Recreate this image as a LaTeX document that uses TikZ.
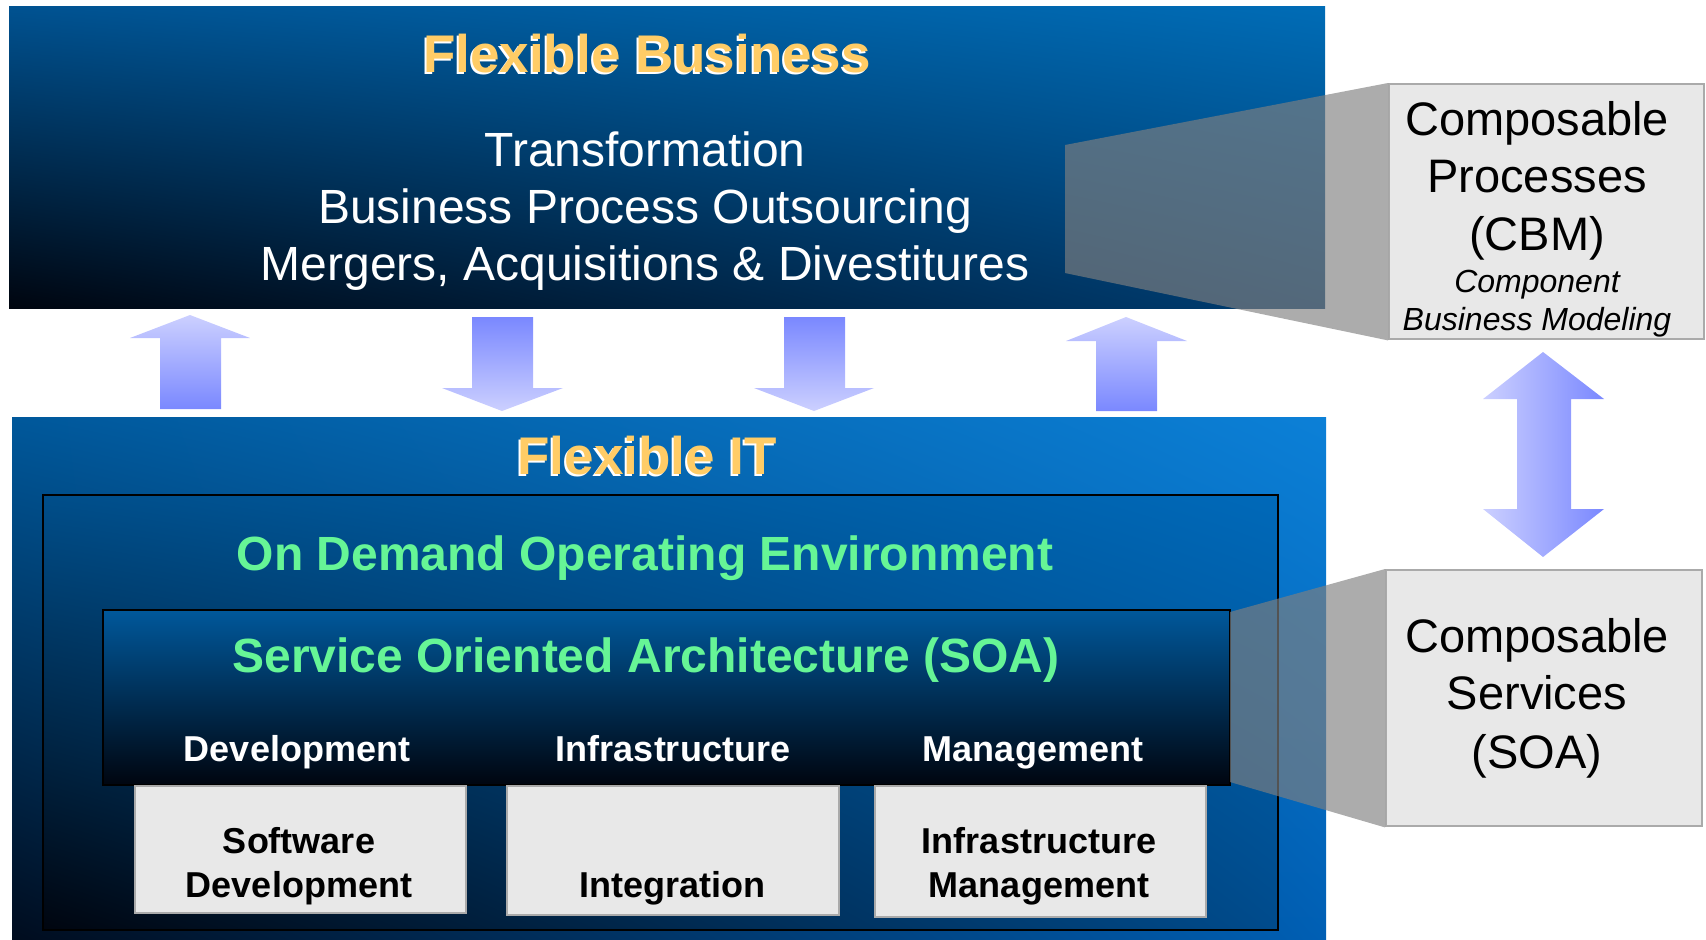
\documentclass[tikz,border=0pt]{standalone}
\usepackage{fontspec}
\setmainfont{Liberation Sans}
\usetikzlibrary{shadings}
\definecolor{tbUL}{RGB}{0,82,145}
\definecolor{tbUR}{RGB}{0,108,182}
\definecolor{tbLL}{RGB}{0,5,15}
\definecolor{tbLR}{RGB}{0,62,115}
\definecolor{itUL}{RGB}{0,88,155}
\definecolor{itUR}{RGB}{12,128,215}
\definecolor{itLL}{RGB}{0,12,30}
\definecolor{itLR}{RGB}{0,95,180}
\definecolor{odUL}{RGB}{0,78,138}
\definecolor{odUR}{RGB}{0,105,185}
\definecolor{odLL}{RGB}{0,5,15}
\definecolor{odLR}{RGB}{0,75,140}
\definecolor{soaT}{RGB}{0,88,155}
\definecolor{soaM}{RGB}{0,50,95}
\definecolor{soaB}{RGB}{0,5,15}
\definecolor{titleorange}{RGB}{255,204,102}
\definecolor{soagreen}{RGB}{102,245,150}
\definecolor{arrLight}{RGB}{204,208,255}
\definecolor{arrDark}{RGB}{122,136,255}
\definecolor{boxfill}{RGB}{232,232,232}
\definecolor{boxline}{RGB}{170,170,170}
\definecolor{funnel}{RGB}{128,128,128}
\tikzset{
  txt/.style={inner sep=0pt, anchor=base},
  title/.style={txt, font=\bfseries\fontsize{26.5}{30}\selectfont, text=titleorange},
  titleshadow/.style={txt, font=\bfseries\fontsize{26.5}{30}\selectfont, text=white},
  bigwhite/.style={txt, font=\fontsize{24}{28}\selectfont, text=white},
  greentitle/.style={txt, font=\bfseries\fontsize{24}{28}\selectfont, text=soagreen},
  collabel/.style={txt, font=\bfseries\fontsize{18}{22}\selectfont, text=white},
  boxtext/.style={txt, font=\bfseries\fontsize{18}{22}\selectfont, text=black},
  sidetext/.style={txt, font=\fontsize{23.5}{28}\selectfont, text=black},
  sideital/.style={txt, font=\itshape\fontsize{16}{19}\selectfont, text=black},
  graybox/.style={draw=boxline, line width=1.2pt, fill=boxfill},
  funnelfill/.style={fill=funnel, fill opacity=0.65},
  uparrow/.style={top color=arrLight, bottom color=arrDark},
  downarrow/.style={top color=arrDark, bottom color=arrLight}
}
\begin{document}
\begin{tikzpicture}[x=0.5pt,y=-0.5pt]
\useasboundingbox (0,0) rectangle (1706,939);
% top box
\shade[upper left=tbUL, upper right=tbUR, lower left=tbLL, lower right=tbLR] (9,6) rectangle (1325,308);
% IT box
\shade[upper left=itUL, upper right=itUR, lower left=itLL, lower right=itLR] (12,417) rectangle (1326,939);
% ODOE box
\shade[upper left=odUL, upper right=odUR, lower left=odLL, lower right=odLR] (43,495) rectangle (1278,930);
\draw[black, line width=1.1pt] (43,495) rectangle (1278,930);
% SOA box
\shade[top color=soaT, middle color=soaM, bottom color=soaB] (103,610) rectangle (1230,785);
\draw[black, line width=1.1pt] (103,610) rectangle (1230,785);

% arrows between
\shade[uparrow] (130,338) -- (190,315) -- (250,338) -- (221,338) -- (221,409) -- (160,409) -- (160,338) -- cycle;
\shade[downarrow] (472,317) -- (533,317) -- (533,388) -- (563,388) -- (502,411) -- (442,388) -- (472,388) -- cycle;
\shade[downarrow] (784,317) -- (845,317) -- (845,388) -- (874,388) -- (814,411) -- (754,388) -- (784,388) -- cycle;
\shade[uparrow] (1066,341) -- (1126,317) -- (1187,341) -- (1157,341) -- (1157,411) -- (1096,411) -- (1096,341) -- cycle;
% double arrow
\shade[left color=arrLight, right color=arrDark] (1483,399) -- (1543,352) -- (1604,399) -- (1571,399) -- (1571,509) -- (1604,509) -- (1543,557) -- (1483,509) -- (1517,509) -- (1517,399) -- cycle;

% side boxes
\node[graybox, minimum width=157.5pt, minimum height=127.5pt, inner sep=0pt, anchor=north west] (cbm) at (1388,83) {};
\node[graybox, minimum width=158pt, minimum height=128pt, inner sep=0pt, anchor=north west] (svc) at (1385,569) {};

% funnels
\fill[funnelfill] (1065,145) -- (cbm.north west) -- (cbm.south west) -- (1065,273) -- cycle;
\fill[funnelfill] (1230,612) -- (svc.north west) -- (svc.south west) -- (1230,782) -- cycle;

% white boxes
\node[graybox, minimum width=165.5pt, minimum height=63.5pt, inner sep=0pt, anchor=north west] (b1) at (134,785) {};
\node[graybox, minimum width=166pt, minimum height=64.5pt, inner sep=0pt, anchor=north west] (b2) at (506,785) {};
\node[graybox, minimum width=165.5pt, minimum height=65.5pt, inner sep=0pt, anchor=north west] (b3) at (874,785) {};

% texts top box
\node[titleshadow] (fbs) at (645,74) {Flexible Business};
\node[title] (fb) at (647,72) {Flexible Business};
\node[bigwhite] (t1) at (645,166) {Transformation};
\node[bigwhite] (t2) at (645,223) {Business Process Outsourcing};
\node[bigwhite] (t3) at (645,280) {Mergers, Acquisitions \& Divestitures};

% texts IT box
\node[titleshadow] (fits) at (645,476) {Flexible IT};
\node[title] (fit) at (647,474) {Flexible IT};
\node[greentitle] (odoe) at (645,570) {On Demand Operating Environment};
\node[greentitle] (soa) at (646,672) {Service Oriented Architecture (SOA)};
\node[collabel] (c1) at (297,761) {Development};
\node[collabel] (c2) at (673,761) {Infrastructure};
\node[collabel] (c3) at (1033,761) {Management};
\node[boxtext] (b1a) at (299,853) {Software};
\node[boxtext] (b1b) at (299,897) {Development};
\node[boxtext] (b2a) at (672,897) {Integration};
\node[boxtext] (b3a) at (1039,853) {Infrastructure};
\node[boxtext] (b3b) at (1039,897) {Management};

% side texts
\node[sidetext] (s1) at (1537,135) {Composable};
\node[sidetext] (s2) at (1537,192) {Processes};
\node[sidetext] (s3) at (1537,250) {(CBM)};
\node[sideital] (s4) at (1537,292) {Component};
\node[sideital] (s5) at (1537,330) {Business Modeling};
\node[sidetext] (v1) at (1537,652) {Composable};
\node[sidetext] (v2) at (1537,709) {Services};
\node[sidetext] (v3) at (1537,768) {(SOA)};
\end{tikzpicture}
\end{document}
